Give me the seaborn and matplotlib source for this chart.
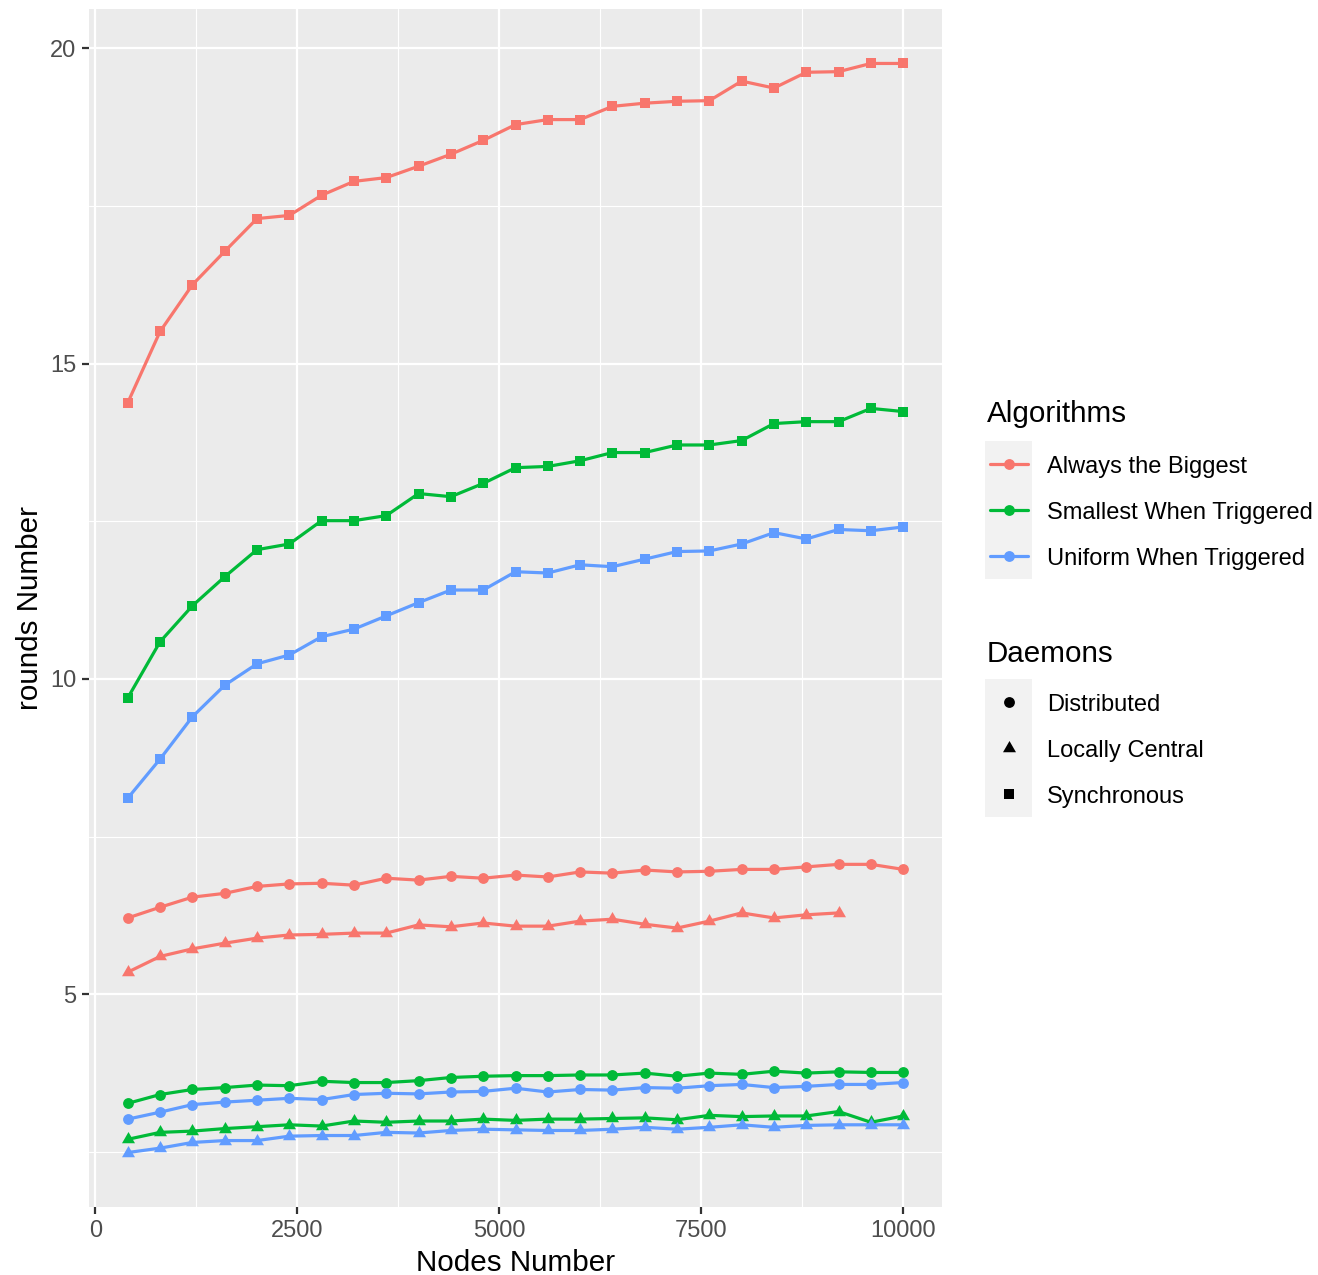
import matplotlib
matplotlib.use("Agg")
import matplotlib.pyplot as plt
import seaborn as sns
import pandas as pd
from matplotlib.lines import Line2D
from matplotlib.patches import Rectangle
from matplotlib.ticker import FixedLocator

# ---------------------------------------------------------------- data
nodes = [400, 800, 1200, 1600, 2000, 2400, 2800, 3200, 3600, 4000, 4400, 4800,
         5200, 5600, 6000, 6400, 6800, 7200, 7600, 8000, 8400, 8800, 9200, 9600, 10000]

algorithms = ["Always the Biggest", "Smallest When Triggered", "Uniform When Triggered"]
daemons = ["Distributed", "Locally Central", "Synchronous"]

biggest_sync = [14.38, 15.51, 16.25, 16.78, 17.30, 17.35, 17.67, 17.89, 17.95, 18.13, 18.32, 18.54,
                18.79, 18.87, 18.87, 19.08, 19.13, 19.16, 19.17, 19.48, 19.37, 19.62, 19.63, 19.76, 19.76]
smallest_sync = [9.70, 10.59, 11.16, 11.62, 12.05, 12.14, 12.51, 12.51, 12.59, 12.94, 12.89, 13.10,
                 13.35, 13.37, 13.46, 13.59, 13.59, 13.71, 13.71, 13.78, 14.05, 14.08, 14.08, 14.29, 14.24]
uniform_sync = [8.11, 8.73, 9.40, 9.90, 10.24, 10.38, 10.67, 10.79, 11.00, 11.21, 11.41, 11.41,
                11.70, 11.68, 11.81, 11.78, 11.90, 12.02, 12.03, 12.14, 12.32, 12.22, 12.37, 12.35, 12.41]

biggest_dist = [6.21, 6.38, 6.54, 6.60, 6.71, 6.75, 6.76, 6.73, 6.84, 6.81, 6.87, 6.84,
                6.89, 6.86, 6.94, 6.92, 6.97, 6.94, 6.95, 6.98, 6.98, 7.02, 7.06, 7.06, 6.98]
smallest_dist = [3.27, 3.41, 3.49, 3.52, 3.56, 3.55, 3.62, 3.60, 3.60, 3.63, 3.68, 3.70,
                 3.71, 3.71, 3.72, 3.72, 3.75, 3.70, 3.75, 3.73, 3.78, 3.75, 3.77, 3.76, 3.76]
uniform_dist = [3.02, 3.13, 3.25, 3.29, 3.32, 3.35, 3.33, 3.41, 3.43, 3.42, 3.45, 3.46,
                3.51, 3.45, 3.49, 3.48, 3.52, 3.51, 3.55, 3.57, 3.52, 3.54, 3.57, 3.57, 3.60]

# the "Always the Biggest" locally-central runs stop at 9200 nodes
biggest_local = [5.35, 5.60, 5.72, 5.81, 5.89, 5.94, 5.95, 5.97, 5.97, 6.10, 6.07, 6.13,
                 6.08, 6.08, 6.16, 6.19, 6.11, 6.05, 6.16, 6.29, 6.21, 6.26, 6.29]
smallest_local = [2.70, 2.81, 2.83, 2.87, 2.90, 2.93, 2.91, 2.99, 2.97, 2.99, 2.99, 3.02,
                  3.00, 3.02, 3.02, 3.03, 3.04, 3.01, 3.08, 3.06, 3.07, 3.07, 3.14, 2.97, 3.07]
uniform_local = [2.49, 2.56, 2.65, 2.68, 2.68, 2.75, 2.76, 2.76, 2.81, 2.80, 2.84, 2.86,
                 2.85, 2.84, 2.84, 2.86, 2.89, 2.86, 2.89, 2.93, 2.89, 2.92, 2.93, 2.93, 2.93]

series = {
    ("Always the Biggest", "Distributed"): biggest_dist,
    ("Always the Biggest", "Locally Central"): biggest_local,
    ("Always the Biggest", "Synchronous"): biggest_sync,
    ("Smallest When Triggered", "Distributed"): smallest_dist,
    ("Smallest When Triggered", "Locally Central"): smallest_local,
    ("Smallest When Triggered", "Synchronous"): smallest_sync,
    ("Uniform When Triggered", "Distributed"): uniform_dist,
    ("Uniform When Triggered", "Locally Central"): uniform_local,
    ("Uniform When Triggered", "Synchronous"): uniform_sync,
}

rows = []
for (alg, dae), vals in series.items():
    for n, v in zip(nodes, vals):
        rows.append({"Nodes Number": n, "rounds Number": v,
                     "Algorithms": alg, "Daemons": dae})
df = pd.DataFrame(rows)

# ---------------------------------------------------------------- style
sns.set_theme(style="white")
plt.rcParams["font.family"] = ["Liberation Sans", "DejaVu Sans"]

palette = {"Always the Biggest": "#F8766D",
           "Smallest When Triggered": "#00BA38",
           "Uniform When Triggered": "#619CFF"}
marker_styles = {"Distributed": ("o", 7.8),
                 "Locally Central": ((3, 0, 0), 10.8),
                 "Synchronous": ("s", 7.6)}

W, H = 1318, 1275
fig = plt.figure(figsize=(W / 100, H / 100), dpi=100, facecolor="white")
ax = fig.add_axes([89 / W, (H - 1207) / H, (942 - 89) / W, (1207 - 9) / H])
ax.set_facecolor("#EBEBEB")

for dae in daemons:
    sub = df[df["Daemons"] == dae]
    m, ms = marker_styles[dae]
    sns.lineplot(data=sub, x="Nodes Number", y="rounds Number",
                 hue="Algorithms", hue_order=algorithms, palette=palette,
                 marker=m, markersize=ms, markeredgewidth=0,
                 linewidth=2.3, errorbar=None, legend=False, ax=ax, zorder=3)

# ggplot-like 5 % expansion of the data range
xmin, xmax = df["Nodes Number"].min(), df["Nodes Number"].max()
ymin, ymax = df["rounds Number"].min(), df["rounds Number"].max()
xpad, ypad = (xmax - xmin) * 0.05, (ymax - ymin) * 0.05
ax.set_xlim(xmin - xpad, xmax + xpad)
ax.set_ylim(ymin - ypad, ymax + ypad)

ax.xaxis.set_major_locator(FixedLocator([0, 2500, 5000, 7500, 10000]))
ax.xaxis.set_minor_locator(FixedLocator([1250, 3750, 6250, 8750]))
ax.yaxis.set_major_locator(FixedLocator([5, 10, 15, 20]))
ax.yaxis.set_minor_locator(FixedLocator([2.5, 7.5, 12.5, 17.5]))
ax.grid(which="major", color="white", linewidth=1.6, zorder=0)
ax.grid(which="minor", color="white", linewidth=0.8, zorder=0)
ax.set_axisbelow(True)
for s in ax.spines.values():
    s.set_visible(False)

ax.tick_params(axis="both", which="major", length=5, width=1.6, color="#333333",
               labelsize=17, labelcolor="#4D4D4D")
ax.tick_params(axis="x", which="major", pad=4.5, bottom=True)
ax.tick_params(axis="y", which="major", pad=4.3, left=True)
ax.tick_params(which="minor", length=0)
ax.set_xlabel("")
ax.set_ylabel("")

# ---------------------------------------------------------------- titles & legends
over = fig.add_axes([0, 0, 1, 1], facecolor="none")
over.set_xlim(0, W)
over.set_ylim(H, 0)
over.axis("off")

over.text(515.5, 1271, "Nodes Number", fontsize=21.3, color="black",
          ha="center", va="baseline")
over.text(38, 608, "rounds Number", fontsize=21.3, color="black",
          ha="center", va="baseline", rotation=90, rotation_mode="anchor")

key_x0, key_w, key_h = 985, 47, 46
glyph_cx = 1009
label_x = 1047

# colour legend
over.text(987, 422, "Algorithms", fontsize=21.3, color="black", va="baseline")
over.add_patch(Rectangle((key_x0, 441), key_w, key_h * 3, fc="#F2F2F2", ec="none"))
for i, alg in enumerate(algorithms):
    cy = 464 + i * key_h
    over.add_line(Line2D([990, 1028], [cy, cy], color=palette[alg], linewidth=2.3))
    over.add_line(Line2D([glyph_cx], [cy], color=palette[alg], marker="o",
                         markersize=7.8, markeredgewidth=0, linestyle="none"))
    over.text(label_x, cy + 9, alg, fontsize=17, color="black", va="baseline")

# shape legend
over.text(987, 662, "Daemons", fontsize=21.3, color="black", va="baseline")
over.add_patch(Rectangle((key_x0, 679), key_w, key_h * 3, fc="#F2F2F2", ec="none"))
for i, dae in enumerate(daemons):
    cy = 702 + i * key_h
    m, ms = marker_styles[dae]
    over.add_line(Line2D([glyph_cx], [cy], color="black", marker=m,
                         markersize=ms, markeredgewidth=0, linestyle="none"))
    over.text(label_x, cy + 9, dae, fontsize=17, color="black", va="baseline")

fig.savefig("out.png", dpi=100, facecolor="white")
